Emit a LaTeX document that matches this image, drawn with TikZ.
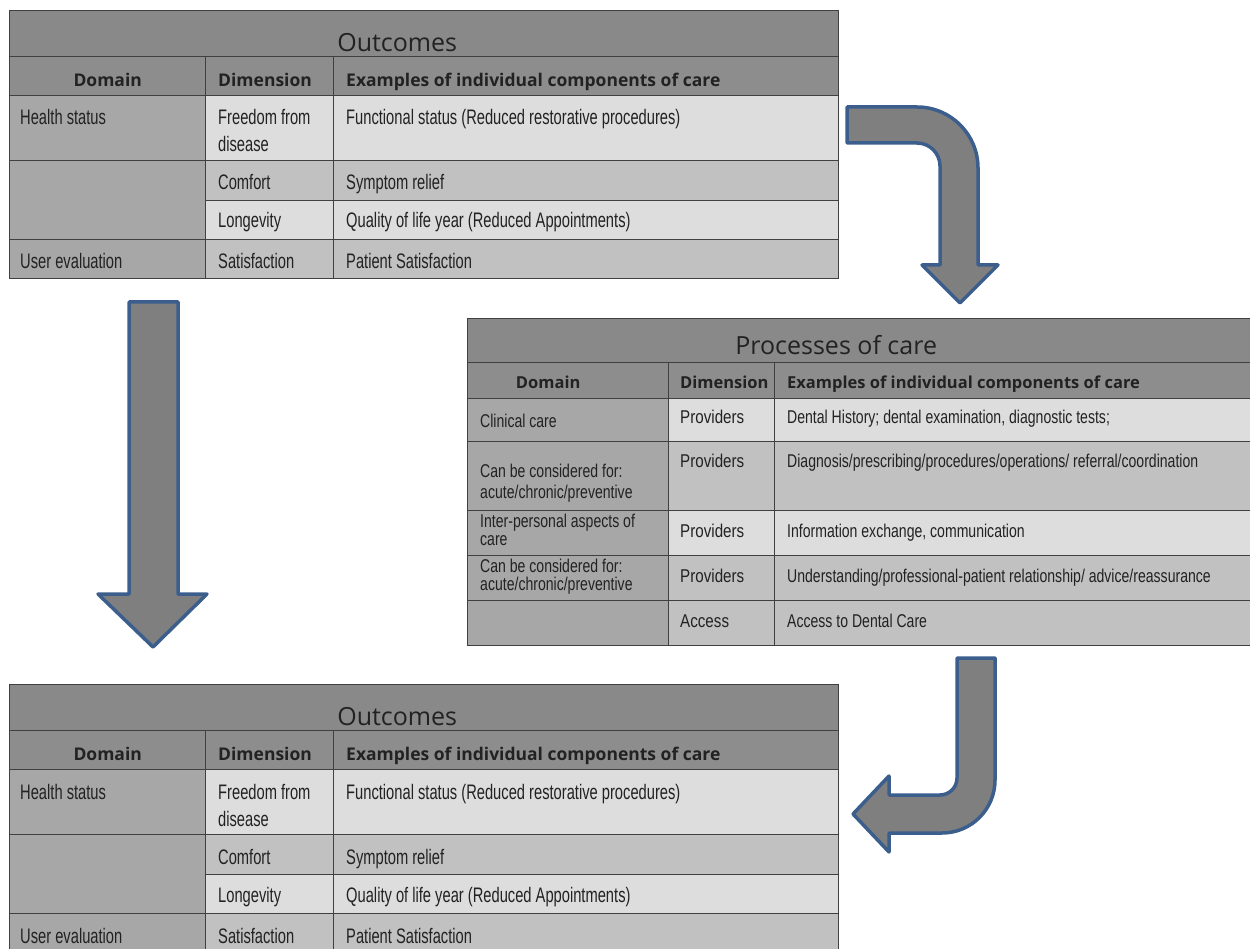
\documentclass[tikz,border=0pt]{standalone}
\usepackage{fontspec}
\newfontfamily\headfont{Open Sans}
\newfontfamily\narrowfont[FakeStretch=0.70]{Liberation Sans}
\newfontfamily\smallfont[FakeStretch=0.76]{Liberation Sans}
\newfontfamily\provfont[FakeStretch=0.82]{Liberation Sans}
\usetikzlibrary{positioning}
\definecolor{titlegray}{HTML}{898989}
\definecolor{headgray}{HTML}{8D8D8D}
\definecolor{domgray}{HTML}{A7A7A7}
\definecolor{lightgray}{HTML}{DDDDDD}
\definecolor{midgray}{HTML}{C1C1C1}
\definecolor{tline}{HTML}{404040}
\definecolor{ink}{HTML}{222222}
\definecolor{arrowgray}{HTML}{7F7F7F}
\definecolor{arrowblue}{HTML}{3B5E8C}
\tikzstyle{cell} = [rectangle, draw=tline, line width=1.4pt, anchor=north west, inner sep=0pt]
\tikzstyle{titlecell} = [cell, fill=titlegray]
\tikzstyle{headcell} = [cell, fill=headgray]
\tikzstyle{domcell} = [cell, fill=domgray]
\tikzstyle{lightcell} = [cell, fill=lightgray]
\tikzstyle{midcell} = [cell, fill=midgray]
\tikzstyle{titletext} = [anchor=base, inner sep=0pt, text=ink, font=\headfont\fontsize{25}{30}\selectfont]
\tikzstyle{headtext} = [anchor=base west, inner sep=0pt, text=ink, font=\headfont\bfseries\fontsize{17.5}{21}\selectfont]
\tikzstyle{bodytext} = [anchor=base west, inner sep=0pt, align=left, text=ink, font=\narrowfont\fontsize{21}{27}\selectfont]
\tikzstyle{smalltext} = [bodytext, font=\smallfont\fontsize{18.5}{21}\selectfont]
\tikzstyle{provtext} = [bodytext, font=\provfont\fontsize{18.5}{21}\selectfont]
\tikzstyle{blockarrow} = [draw=arrowblue, fill=arrowgray, line width=3.5pt, line join=round]

\begin{document}
\begin{tikzpicture}[x=1pt, y=1pt]
\useasboundingbox (0,0) rectangle (1250,-949);
\clip (0,0) rectangle (1250,-949);

% Outcomes tables (top and bottom)
\foreach \t/\dy in {top/0, bot/674} {
\begin{scope}[yshift=-\dy pt]
% Place cells
\node [titlecell, minimum width=829pt, minimum height=46pt] (\t-title) at (9,-10) {};
\node [headcell, minimum width=196pt, minimum height=39pt] (\t-h1) at (9,-56) {};
\node [headcell, minimum width=128pt, minimum height=39pt] (\t-h2) at (205,-56) {};
\node [headcell, minimum width=505pt, minimum height=39pt] (\t-h3) at (333,-56) {};
\node [domcell, minimum width=196pt, minimum height=65pt] (\t-d1) at (9,-95) {};
\node [domcell, minimum width=196pt, minimum height=79pt] (\t-d2) at (9,-160) {};
\node [domcell, minimum width=196pt, minimum height=39pt] (\t-d4) at (9,-239) {};
\node [lightcell, minimum width=128pt, minimum height=65pt] (\t-m1) at (205,-95) {};
\node [midcell, minimum width=128pt, minimum height=40pt] (\t-m2) at (205,-160) {};
\node [lightcell, minimum width=128pt, minimum height=39pt] (\t-m3) at (205,-200) {};
\node [midcell, minimum width=128pt, minimum height=39pt] (\t-m4) at (205,-239) {};
\node [lightcell, minimum width=505pt, minimum height=65pt] (\t-e1) at (333,-95) {};
\node [midcell, minimum width=505pt, minimum height=40pt] (\t-e2) at (333,-160) {};
\node [lightcell, minimum width=505pt, minimum height=39pt] (\t-e3) at (333,-200) {};
\node [midcell, minimum width=505pt, minimum height=39pt] (\t-e4) at (333,-239) {};
% Place texts
\node [titletext] (\t-titletxt) at ([xshift=-27pt, yshift=6pt]\t-title.south) {Outcomes};
\node [headtext, anchor=base] (\t-h1txt) at ([yshift=10pt]\t-h1.south) {Domain};
\node [headtext] (\t-h2txt) at ([xshift=13pt, yshift=10pt]\t-h2.south west) {Dimension};
\node [headtext] (\t-h3txt) at ([xshift=13pt, yshift=10pt]\t-h3.south west) {Examples of individual components of care};
\node [bodytext] (\t-d1txt) at ([shift={(11,-30)}]\t-d1.north west) {Health status};
\node [bodytext] (\t-d4txt) at ([shift={(11,-30)}]\t-d4.north west) {User evaluation};
\node [bodytext] (\t-m1txt) at ([shift={(13,-57)}]\t-m1.north west) {Freedom from\\disease};
\node [bodytext] (\t-m2txt) at ([shift={(13,-30)}]\t-m2.north west) {Comfort};
\node [bodytext] (\t-m3txt) at ([shift={(13,-28)}]\t-m3.north west) {Longevity};
\node [bodytext] (\t-m4txt) at ([shift={(13,-30)}]\t-m4.north west) {Satisfaction};
\node [bodytext] (\t-e1txt) at ([shift={(13,-30)}]\t-e1.north west) {Functional status (Reduced restorative procedures)};
\node [bodytext] (\t-e2txt) at ([shift={(13,-30)}]\t-e2.north west) {Symptom relief};
\node [bodytext] (\t-e3txt) at ([shift={(13,-28)}]\t-e3.north west) {Quality of life year (Reduced Appointments)};
\node [bodytext] (\t-e4txt) at ([shift={(13,-30)}]\t-e4.north west) {Patient Satisfaction};
\end{scope}
}

% Processes of care table
\node [titlecell, minimum width=783pt, minimum height=44pt] (pc-title) at (467,-318) {};
\node [headcell, minimum width=201pt, minimum height=36pt] (pc-h1) at (467,-362) {};
\node [headcell, minimum width=106pt, minimum height=36pt] (pc-h2) at (668,-362) {};
\node [headcell, minimum width=476pt, minimum height=36pt] (pc-h3) at (774,-362) {};
\node [domcell, minimum width=201pt, minimum height=43pt] (pc-d1) at (467,-398) {};
\node [domcell, minimum width=201pt, minimum height=69pt] (pc-d2) at (467,-441) {};
\node [domcell, minimum width=201pt, minimum height=45pt] (pc-d3) at (467,-510) {};
\node [domcell, minimum width=201pt, minimum height=45pt] (pc-d4) at (467,-555) {};
\node [domcell, minimum width=201pt, minimum height=45pt] (pc-d5) at (467,-600) {};
\node [lightcell, minimum width=106pt, minimum height=43pt] (pc-m1) at (668,-398) {};
\node [midcell, minimum width=106pt, minimum height=69pt] (pc-m2) at (668,-441) {};
\node [lightcell, minimum width=106pt, minimum height=45pt] (pc-m3) at (668,-510) {};
\node [midcell, minimum width=106pt, minimum height=45pt] (pc-m4) at (668,-555) {};
\node [midcell, minimum width=106pt, minimum height=45pt] (pc-m5) at (668,-600) {};
\node [lightcell, minimum width=476pt, minimum height=43pt] (pc-e1) at (774,-398) {};
\node [midcell, minimum width=476pt, minimum height=69pt] (pc-e2) at (774,-441) {};
\node [lightcell, minimum width=476pt, minimum height=45pt] (pc-e3) at (774,-510) {};
\node [midcell, minimum width=476pt, minimum height=45pt] (pc-e4) at (774,-555) {};
\node [midcell, minimum width=476pt, minimum height=45pt] (pc-e5) at (774,-600) {};
\node [titletext] (pc-titletxt) at ([xshift=-23pt, yshift=9pt]pc-title.south) {Processes of care};
\node [headtext, anchor=base, font=\headfont\bfseries\fontsize{16.5}{20}\selectfont] (pc-h1txt) at ([xshift=-20pt, yshift=11pt]pc-h1.south) {Domain};
\node [headtext, font=\headfont\bfseries\fontsize{16.5}{20}\selectfont] (pc-h2txt) at ([xshift=12pt, yshift=11pt]pc-h2.south west) {Dimension};
\node [headtext, font=\headfont\bfseries\fontsize{16.5}{20}\selectfont] (pc-h3txt) at ([xshift=13pt, yshift=11pt]pc-h3.south west) {Examples of individual components of care};
\node [smalltext] (pc-d1txt) at ([shift={(13,-29)}]pc-d1.north west) {Clinical care};
\node [smalltext] (pc-d2txt) at ([shift={(13,-57)}]pc-d2.north west) {Can be considered for:\\acute/chronic/preventive};
\node [smalltext, font=\smallfont\fontsize{18.5}{17.5}\selectfont] (pc-d3txt) at ([shift={(13,-35)}]pc-d3.north west) {Inter-personal aspects of\\care};
\node [smalltext, font=\smallfont\fontsize{18.5}{17.5}\selectfont] (pc-d4txt) at ([shift={(13,-35)}]pc-d4.north west) {Can be considered for:\\acute/chronic/preventive};
\node [provtext] (pc-m1txt) at ([shift={(12,-25)}]pc-m1.north west) {Providers};
\node [provtext] (pc-m2txt) at ([shift={(12,-26)}]pc-m2.north west) {Providers};
\node [provtext] (pc-m3txt) at ([shift={(12,-27)}]pc-m3.north west) {Providers};
\node [provtext] (pc-m4txt) at ([shift={(12,-27)}]pc-m4.north west) {Providers};
\node [provtext] (pc-m5txt) at ([shift={(12,-27)}]pc-m5.north west) {Access};
\node [smalltext] (pc-e1txt) at ([shift={(13,-25)}]pc-e1.north west) {Dental History; dental examination, diagnostic tests;};
\node [smalltext] (pc-e2txt) at ([shift={(13,-26)}]pc-e2.north west) {Diagnosis/prescribing/procedures/operations/ referral/coordination};
\node [smalltext] (pc-e3txt) at ([shift={(13,-27)}]pc-e3.north west) {Information exchange, communication};
\node [smalltext] (pc-e4txt) at ([shift={(13,-27)}]pc-e4.north west) {Understanding/professional-patient relationship/ advice/reassurance};
\node [smalltext] (pc-e5txt) at ([shift={(13,-27)}]pc-e5.north west) {Access to Dental Care};

% Block arrows
\path [blockarrow] (129,-302) -- (178,-302) -- (178,-594) -- (207,-594) -- (153,-647)
  -- (98,-594) -- (129,-594) -- cycle;
\path [blockarrow] (847,-107) -- (917,-107) arc[start angle=90, end angle=0, radius=61]
  -- (978,-265) -- (998,-265) -- (960,-303) -- (922,-265) -- (940,-265) -- (940,-166)
  arc[start angle=0, end angle=90, radius=23] -- (847,-143) -- cycle;
\path [blockarrow] (957,-658) -- (995,-658) -- (995,-780) arc[start angle=0, end angle=-90, radius=53]
  -- (889,-833) -- (889,-852) -- (853,-814) -- (889,-776) -- (889,-795) -- (940,-795)
  arc[start angle=-90, end angle=0, radius=17] -- cycle;
\end{tikzpicture}
\end{document}
